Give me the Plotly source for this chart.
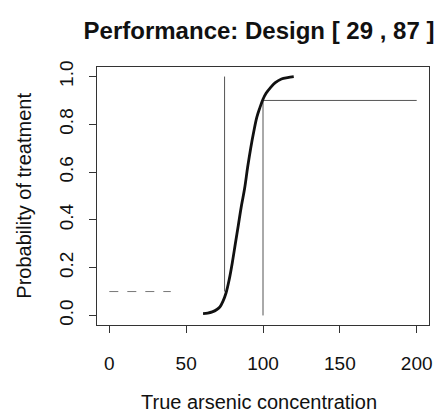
import plotly.graph_objects as go

# Performance curve
conc = [61, 64, 67, 70, 72, 74, 76, 78, 80, 82, 84, 86, 88, 90, 92, 94, 96, 98, 100, 102, 105, 108, 112, 116, 120]
prob = [0.008, 0.010, 0.015, 0.025, 0.036, 0.06, 0.095, 0.15, 0.22, 0.30, 0.38, 0.46, 0.53, 0.62, 0.70,
        0.77, 0.83, 0.87, 0.905, 0.93, 0.955, 0.975, 0.99, 0.996, 1.0]

# Design boundary lines
low_h_x = [0, 40]
low_h_y = [0.1, 0.1]
low_v_x = [75, 75]
low_v_y = [0.1, 1.0]
high_h_x = [100, 200]
high_h_y = [0.9, 0.9]
high_v_x = [100, 100]
high_v_y = [0.0, 0.9]

x_ticks = [0, 50, 100, 150, 200]
y_ticks = [0.0, 0.2, 0.4, 0.6, 0.8, 1.0]

FONT = "Liberation Sans, Arial, Helvetica, sans-serif"
W, H = 441, 420
L, R, T, B = 97, 9, 67, 95

fig = go.Figure()
line_style = dict(color="#555555", width=1)
fig.add_trace(go.Scatter(x=low_h_x, y=low_h_y, mode="lines",
                         line=dict(color="#777777", width=1, dash="dash")))
fig.add_trace(go.Scatter(x=low_v_x, y=low_v_y, mode="lines", line=line_style))
fig.add_trace(go.Scatter(x=high_h_x, y=high_h_y, mode="lines", line=line_style))
fig.add_trace(go.Scatter(x=high_v_x, y=high_v_y, mode="lines", line=line_style))
fig.add_trace(go.Scatter(x=conc, y=prob, mode="lines",
                         line=dict(color="#111111", width=2.8, shape="spline")))

pw = W - L - R
ph = H - T - B

fig.update_layout(
    width=W, height=H,
    margin=dict(l=L, r=R, t=T, b=B, pad=0),
    paper_bgcolor="white", plot_bgcolor="white",
    showlegend=False,
    font=dict(family=FONT, color="#111111", size=19),
    title=dict(text="<b>Performance: Design [ 29 , 87 ]</b>",
               x=259 / W, xref="container", xanchor="center",
               y=1 - 31 / H, yref="container", yanchor="middle",
               font=dict(family=FONT, size=24, color="#111111")),
    xaxis=dict(range=[-8, 208], tickvals=x_ticks, ticktext=[str(v) for v in x_ticks],
               ticks="outside", ticklen=7, tickcolor="#333333", tickwidth=1,
               showline=True, linecolor="#333333", linewidth=1, mirror=True,
               showgrid=False, zeroline=False, ticklabelstandoff=14,
               tickfont=dict(size=19)),
    yaxis=dict(range=[-0.04, 1.04], tickvals=y_ticks, ticktext=[f"{v:.1f}" for v in y_ticks],
               ticks="outside", ticklen=7, tickcolor="#333333", tickwidth=1,
               showline=True, linecolor="#333333", linewidth=1, mirror=True,
               showgrid=False, zeroline=False, tickangle=-90, ticklabelstandoff=8,
               tickfont=dict(size=19)),
    annotations=[
        dict(text="True arsenic concentration", xref="paper", yref="paper",
             x=(260 - L) / pw, y=(H - B - 402) / ph, xanchor="center", yanchor="middle",
             showarrow=False, font=dict(family=FONT, size=20, color="#111111")),
        dict(text="Probability of treatment", xref="paper", yref="paper",
             x=(23 - L) / pw, y=0.5, xanchor="center", yanchor="middle", textangle=-90,
             showarrow=False, font=dict(family=FONT, size=20, color="#111111")),
    ],
)

fig.write_html("out.html")
